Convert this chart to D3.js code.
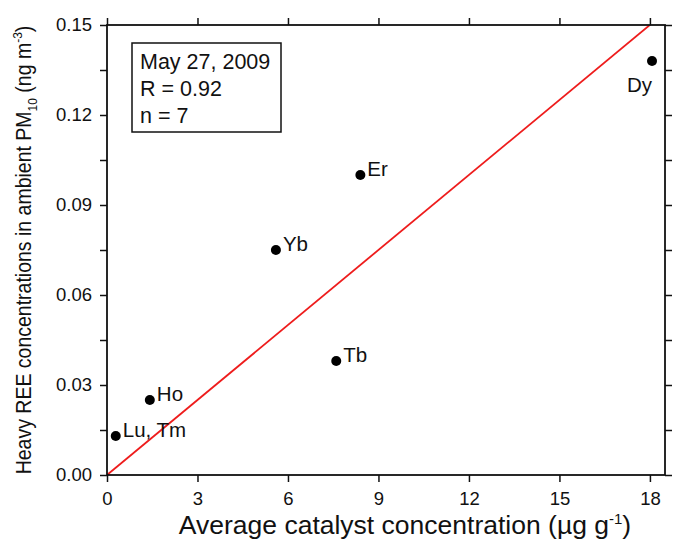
<!DOCTYPE html>
<html>
<head>
<meta charset="utf-8">
<script src="https://cdn.jsdelivr.net/npm/d3@7"></script>
<style>
  body { margin: 0; background: #fff; }
  svg text { font-family: "Liberation Sans", Arial, sans-serif; fill: #111; }
</style>
</head>
<body>
<div id="chart"></div>
<script>
// element labels and values
const elements = ['Dy', 'Er', 'Yb', 'Tb', 'Ho', 'Lu, Tm'];
const catalyst = [18.07, 8.4, 5.6, 7.6, 1.42, 0.29];   // µg g-1
const ambient = [0.138, 0.100, 0.075, 0.038, 0.025, 0.013]; // ng m-3
const fitLine = [[0, 0], [18.5, 0.1542]];
const xTicks = [0, 3, 6, 9, 12, 15, 18];
const yTicks = [0, 0.03, 0.06, 0.09, 0.12, 0.15];
const infoLines = ['May 27, 2009', 'R = 0.92', 'n = 7'];

const width = 678, height = 542;
const margin = { top: 25, right: 13, bottom: 67, left: 107 };
const innerW = width - margin.left - margin.right;
const innerH = height - margin.top - margin.bottom;

const svg = d3.select('#chart').append('svg')
  .attr('width', width)
  .attr('height', height);

const x = d3.scaleLinear().domain([0, 18.5]).range([0, innerW]);
const y = d3.scaleLinear().domain([0, 0.15]).range([innerH, 0]);

const g = svg.append('g')
  .attr('transform', `translate(${margin.left},${margin.top})`);

g.append('clipPath').attr('id', 'clip')
  .append('rect').attr('width', innerW).attr('height', innerH);

// fit line
g.append('path')
  .datum(fitLine)
  .attr('clip-path', 'url(#clip)')
  .attr('fill', 'none')
  .attr('stroke', '#ee1c1c')
  .attr('stroke-width', 1.8)
  .attr('d', d3.line().x(d => x(d[0])).y(d => y(d[1])));

// axes
const minorY = d3.range(0, 0.1501, 0.015);
const styleAxis = sel => {
  sel.select('.domain').remove();
  sel.selectAll('line').attr('stroke', '#111').attr('stroke-width', 1.5);
  sel.selectAll('text').style('font-size', '18.5px');
};

g.append('g')
  .attr('transform', `translate(0,${innerH})`)
  .call(d3.axisBottom(x).tickValues(xTicks).tickSize(7).tickPadding(10).tickFormat(d3.format('d')))
  .call(styleAxis);

g.append('g')
  .call(d3.axisTop(x).tickValues(xTicks).tickSize(7).tickFormat(''))
  .call(styleAxis);

g.append('g')
  .call(d3.axisLeft(y).tickValues(minorY).tickSize(7).tickPadding(8)
    .tickFormat(d => yTicks.some(t => Math.abs(t - d) < 1e-9) ? d3.format('.2f')(d) : ''))
  .call(styleAxis);

g.append('g')
  .attr('transform', `translate(${innerW},0)`)
  .call(d3.axisRight(y).tickValues(minorY).tickSize(7).tickFormat(''))
  .call(styleAxis);

// frame
g.append('rect')
  .attr('width', innerW).attr('height', innerH)
  .attr('fill', 'none').attr('stroke', '#111').attr('stroke-width', 1.8);

// points
const pts = elements.map((name, i) => ({ name, cx: catalyst[i], cy: ambient[i] }));
g.selectAll('circle.pt')
  .data(pts)
  .join('circle')
  .attr('class', 'pt')
  .attr('cx', d => x(d.cx))
  .attr('cy', d => y(d.cy))
  .attr('r', 5)
  .attr('fill', '#000');

g.selectAll('text.lbl')
  .data(pts)
  .join('text')
  .attr('class', 'lbl')
  .style('font-size', '20.5px')
  .attr('x', d => d.name === 'Dy' ? x(d.cx) - 25 : x(d.cx) + 7)
  .attr('y', d => d.name === 'Dy' ? y(d.cy) + 31 : y(d.cy) + 1)
  .text(d => d.name);

// info box
const box = g.append('g').attr('transform', 'translate(25,18)');
box.append('rect')
  .attr('width', 149).attr('height', 89)
  .attr('fill', '#fff').attr('stroke', '#111').attr('stroke-width', 1.5);
box.selectAll('text')
  .data(infoLines)
  .join('text')
  .attr('x', 8)
  .attr('y', (d, i) => 26 + i * 27)
  .style('font-size', '21.5px')
  .text(d => d);

// axis titles
svg.append('text')
  .attr('x', 405)
  .attr('y', 534)
  .attr('text-anchor', 'middle')
  .style('font-size', '26.5px')
  .call(t => {
    t.append('tspan').text('Average catalyst concentration (µg g');
    t.append('tspan').attr('dy', -10).style('font-size', '15px').text('-1');
    t.append('tspan').attr('dy', 10).text(')');
  });

svg.append('text')
  .attr('transform', `translate(31,${margin.top + innerH / 2}) rotate(-90) scale(1,1.1)`)
  .attr('text-anchor', 'middle')
  .style('font-size', '19.5px')
  .call(t => {
    t.append('tspan').text('Heavy REE concentrations in ambient PM');
    t.append('tspan').attr('dy', 5).style('font-size', '12px').text('10');
    t.append('tspan').attr('dy', -5).text(' (ng m');
    t.append('tspan').attr('dy', -8).style('font-size', '12px').text('-3');
    t.append('tspan').attr('dy', 8).text(')');
  });
</script>
</body>
</html>
